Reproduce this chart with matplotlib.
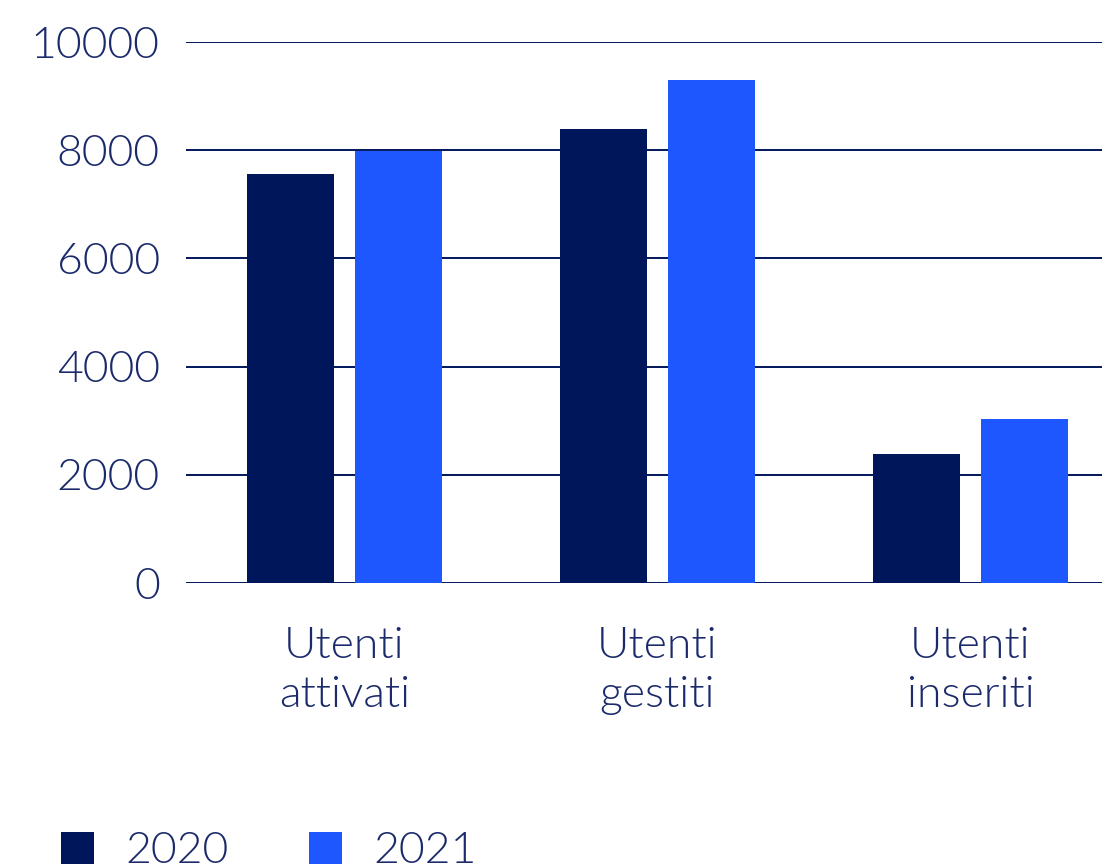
import matplotlib.pyplot as plt
import numpy as np

# data
categories = ["Utenti\nattivati", "Utenti\ngestiti", "Utenti\ninseriti"]
values_2020 = [7560, 8390, 2380]
values_2021 = [7990, 9300, 3030]

dark = "#00165a"
blue = "#1f57ff"
txt = "#1b2a6b"

plt.rcParams['font.family'] = ['Lato', 'DejaVu Sans']
plt.rcParams['font.weight'] = 300

fig = plt.figure(figsize=(11.02, 8.68), dpi=100)
ax = fig.add_axes([0.1688, 0.3283, 0.8312, 0.6233])

x = np.arange(len(categories))
w = 0.278
off = 0.1725
b1 = ax.bar(x - off, values_2020, w, color=dark, label="2020", zorder=3)
b2 = ax.bar(x + off, values_2021, w, color=blue, label="2021", zorder=3)

ax.set_ylim(0, 10000)
ax.set_xlim(-0.506, 2.42)
ax.set_yticks(np.arange(0, 10001, 2000))
ax.grid(axis='y', color=dark, linewidth=1.4, zorder=0)
for s in ax.spines.values():
    s.set_visible(False)
ax.tick_params(axis='both', length=0, labelsize=32, labelcolor=txt)
ax.tick_params(axis='y', pad=19)
ax.tick_params(axis='x', pad=32)
ax.set_xticks(x)
ax.set_xticklabels(categories, linespacing=1.3)

fig.legend(handles=[b1, b2], loc='lower left', bbox_to_anchor=(0.019, -0.05),
           ncol=2, frameon=False, fontsize=32, labelcolor=txt,
           handlelength=0.75, handleheight=0.75, handletextpad=0.7,
           columnspacing=1.8)

fig.savefig("out.png", dpi=100)
